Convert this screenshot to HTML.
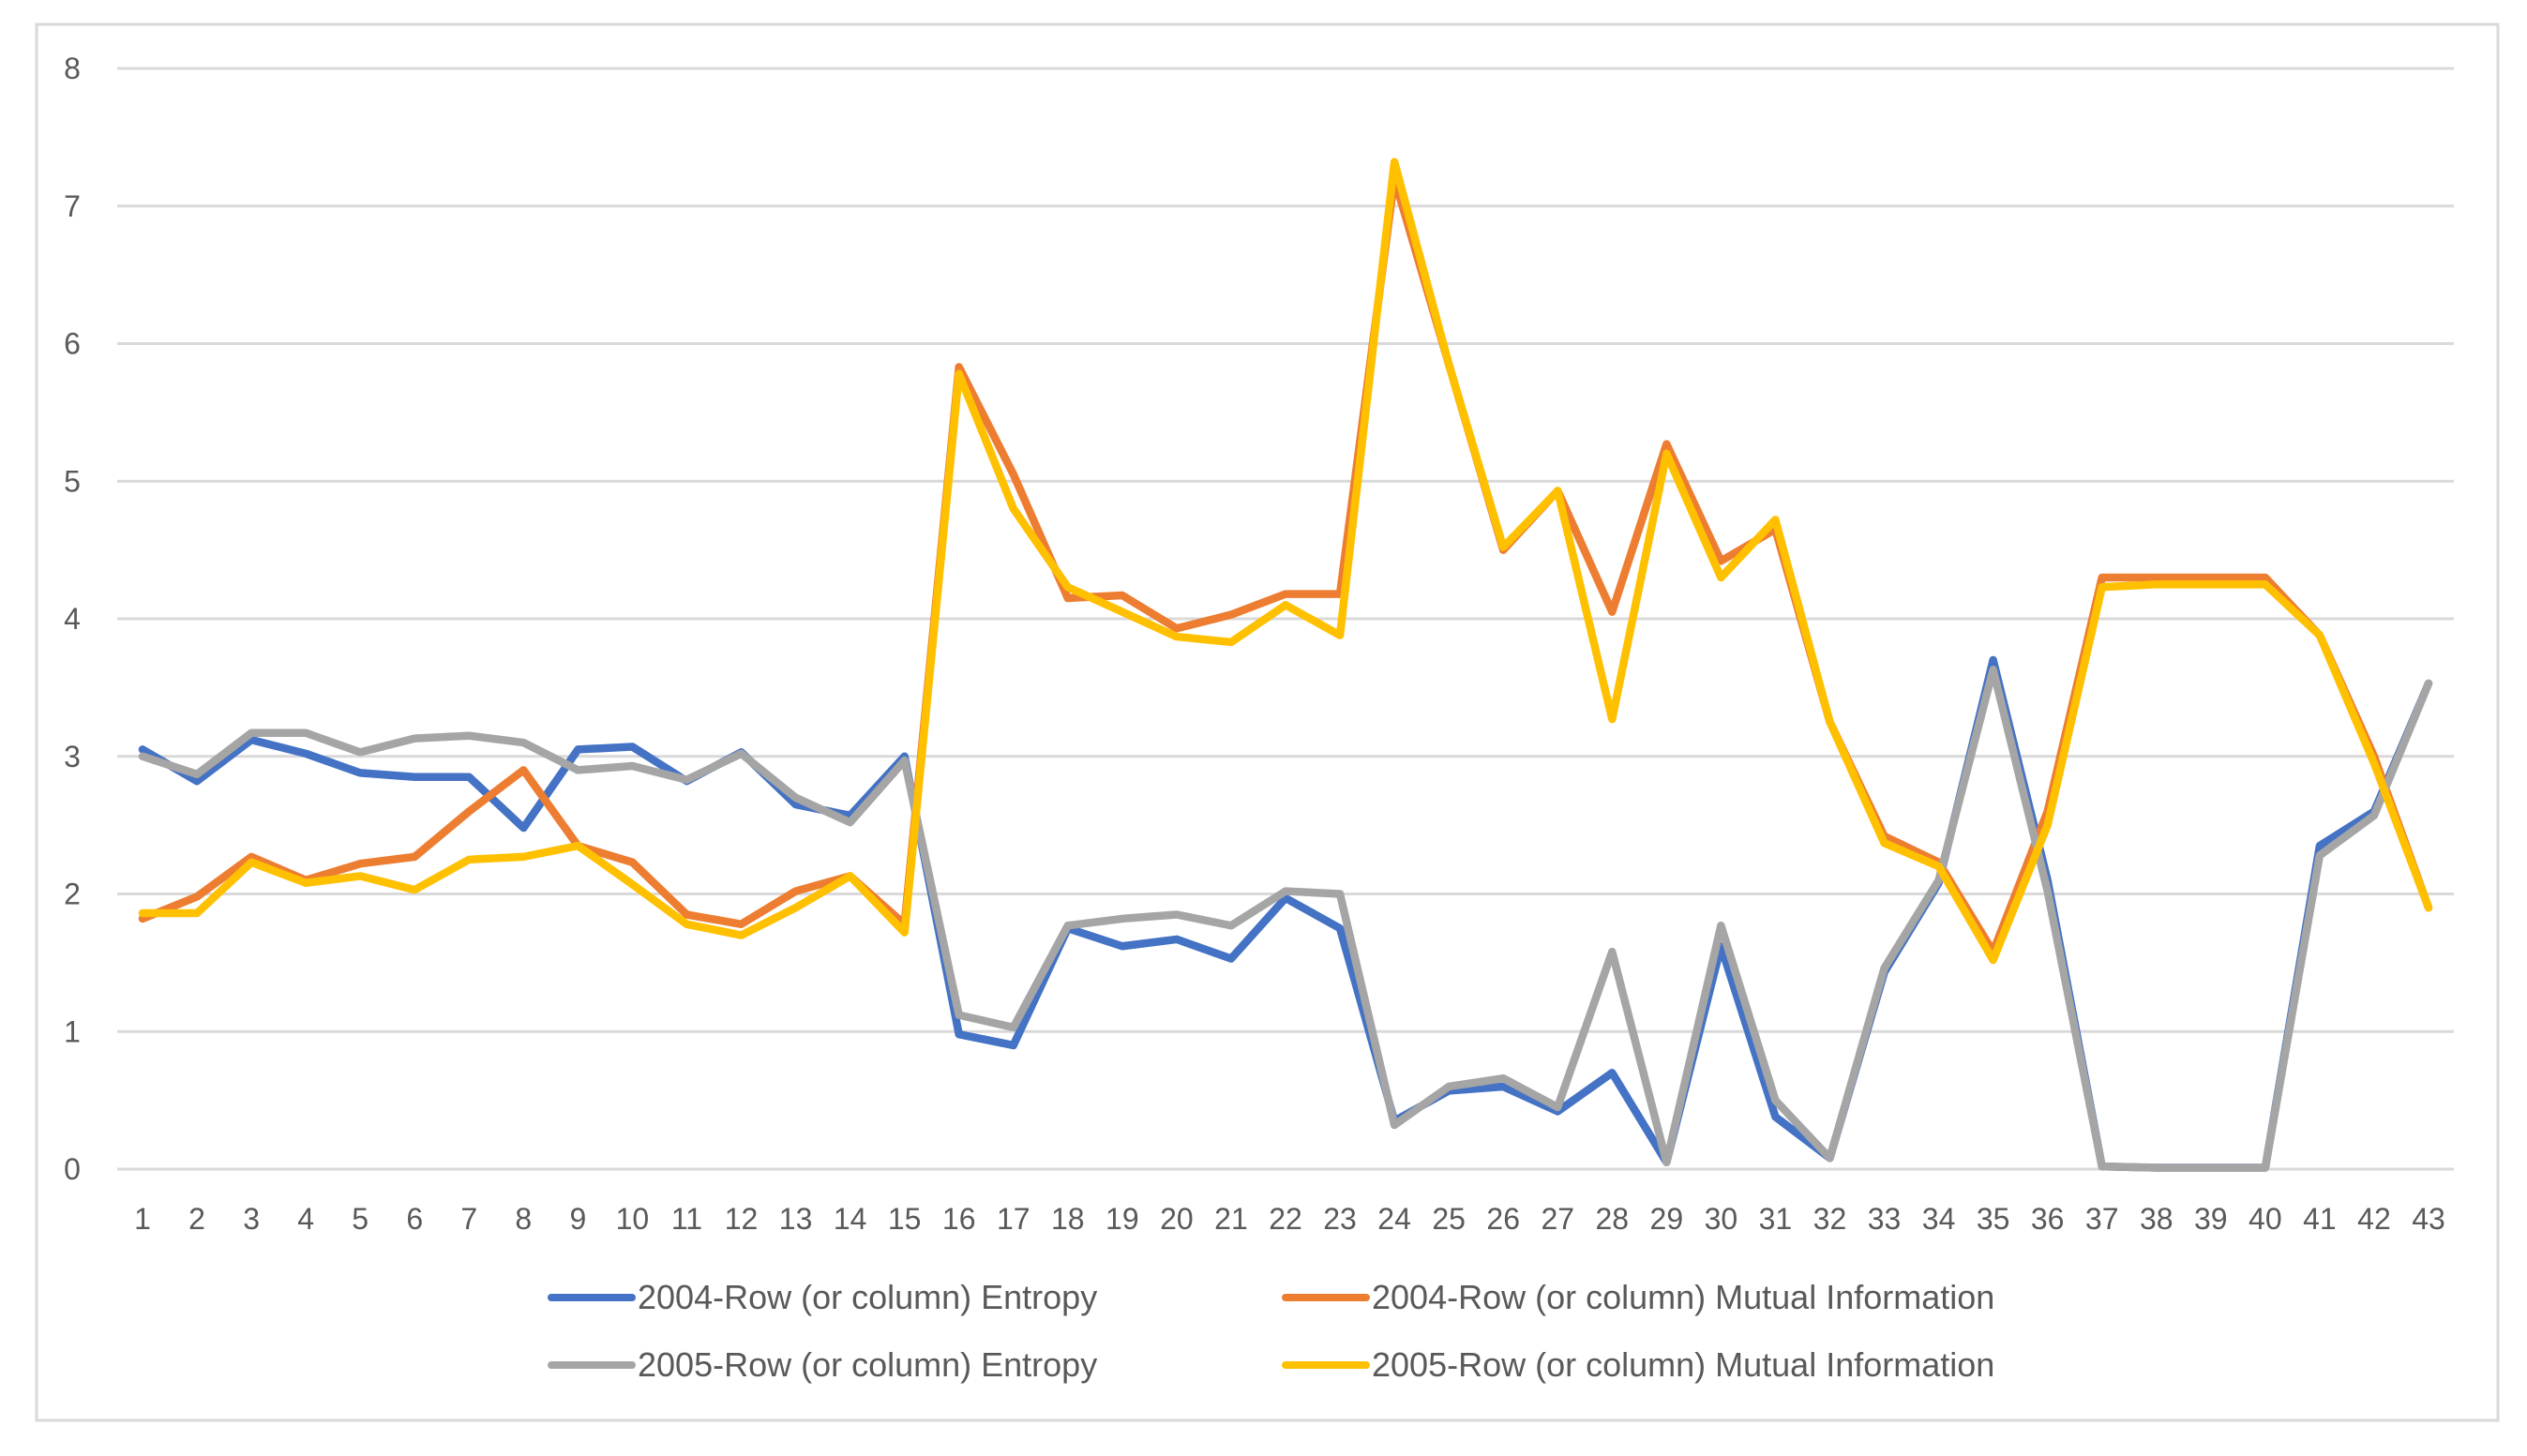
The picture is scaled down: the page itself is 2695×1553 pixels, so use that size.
<!DOCTYPE html>
<html><head><meta charset="utf-8"><style>
html,body{margin:0;padding:0;background:#fff;}
svg{display:block;font-family:"Liberation Sans",sans-serif;}
</style></head><body>
<svg id="chart" width="2695" height="1553" viewBox="0 0 2695 1553">
<rect x="39" y="26" width="2625" height="1489" fill="#fff" stroke="#d9d9d9" stroke-width="3"/>
<g id="grid"></g>
<g id="yt"></g>
<g id="xt"></g>
<g id="series"></g>
<g id="legend"></g>
</svg>
<script>
const categories = Array.from({length:43},(_,i)=>String(i+1));
const yTicks = [0,1,2,3,4,5,6,7,8];
const entropy2004 = [3.05,2.82,3.12,3.02,2.88,2.85,2.85,2.48,3.05,3.07,2.82,3.03,2.65,2.57,3.0,0.98,0.9,1.75,1.62,1.67,1.53,1.97,1.75,0.35,0.57,0.6,0.42,0.7,0.05,1.62,0.38,0.08,1.43,2.08,3.7,2.1,0.02,0.01,0.01,0.01,2.35,2.6,3.53];
const entropy2005 = [3.0,2.87,3.17,3.17,3.03,3.13,3.15,3.1,2.9,2.93,2.83,3.02,2.7,2.52,2.97,1.12,1.03,1.77,1.82,1.85,1.77,2.02,2.0,0.32,0.6,0.66,0.45,1.58,0.05,1.77,0.5,0.08,1.46,2.1,3.63,2.02,0.02,0.01,0.01,0.01,2.28,2.57,3.53];
const mi2004 = [1.82,1.98,2.27,2.1,2.22,2.27,2.6,2.9,2.35,2.23,1.85,1.78,2.02,2.13,1.78,5.83,5.05,4.15,4.17,3.93,4.03,4.18,4.18,7.2,5.85,4.5,4.93,4.05,5.27,4.42,4.65,3.25,2.42,2.23,1.58,2.6,4.3,4.3,4.3,4.3,3.88,3.0,1.9];
const mi2005 = [1.86,1.86,2.23,2.08,2.13,2.03,2.25,2.27,2.35,2.07,1.78,1.7,1.9,2.13,1.72,5.78,4.8,4.23,4.05,3.87,3.83,4.1,3.88,7.32,5.85,4.52,4.93,3.27,5.2,4.3,4.72,3.25,2.37,2.2,1.52,2.5,4.23,4.25,4.25,4.25,3.88,2.95,1.9];
const seriesNames = ["2004-Row (or column) Entropy","2004-Row (or column) Mutual Information","2005-Row (or column) Entropy","2005-Row (or column) Mutual Information"];

const NS="http://www.w3.org/2000/svg";
const X0=152,X1=2590,Y0=1247,Y8=73,GL=125,GR=2617;
const xs=i=>X0+(X1-X0)*i/(categories.length-1);
const ys=v=>Y0+(Y8-Y0)*v/8;
function mk(tag,attrs,parent){const e=document.createElementNS(NS,tag);for(const k in attrs)e.setAttribute(k,attrs[k]);parent.appendChild(e);return e;}
const grid=document.getElementById('grid'),yt=document.getElementById('yt'),xt=document.getElementById('xt'),ser=document.getElementById('series'),leg=document.getElementById('legend');
yTicks.forEach(t=>{
  const l=mk('line',{x1:GL,x2:GR,y1:ys(t),y2:ys(t),stroke:'#d9d9d9','stroke-width':3},grid);
  
  
  const tx=mk('text',{x:77,y:ys(t)+11,'text-anchor':'middle','font-size':32,fill:'#595959'},yt);
  tx.textContent=t;
  
  
});
categories.forEach((c,i)=>{
  const tx=mk('text',{x:xs(i),y:1311,'text-anchor':'middle','font-size':32,fill:'#595959'},xt);
  tx.textContent=c;
  
  
});
const order=[[entropy2004,'#4472c4','entropy-2004'],[mi2004,'#ed7d31','mutual-information-2004'],[entropy2005,'#a5a5a5','entropy-2005'],[mi2005,'#ffc000','mutual-information-2005']];
order.forEach(([d,col,n])=>{
  const p=mk('polyline',{points:d.map((v,i)=>xs(i)+','+ys(v)).join(' '),fill:'none',stroke:col,'stroke-width':8.5,'stroke-linejoin':'round','stroke-linecap':'round'},ser);
  
  
});
const legPos=[[588,1384,'#4472c4',0],[1371,1384,'#ed7d31',1],[588,1456,'#a5a5a5',2],[1371,1456,'#ffc000',3]];
legPos.forEach(([x,y,col,k])=>{
  const g=mk('g',{},leg);
  
  
  mk('line',{x1:x,x2:x+86,y1:y,y2:y,stroke:col,'stroke-width':8,'stroke-linecap':'round'},g);
  const t=mk('text',{x:x+92,y:y+12,'font-size':36,fill:'#595959'},g);
  t.textContent=seriesNames[k];
});
</script>
</body></html>
